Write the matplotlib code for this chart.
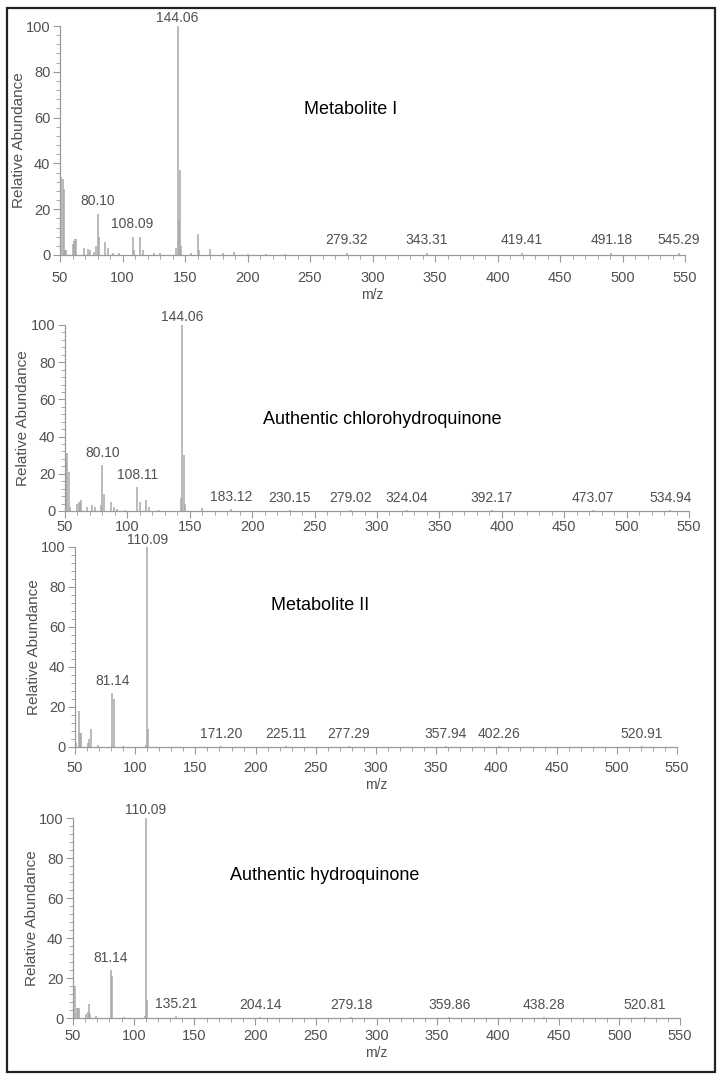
import matplotlib
matplotlib.use("Agg")
import matplotlib.pyplot as plt
from matplotlib.ticker import MultipleLocator
from matplotlib.patches import Rectangle

plt.rcParams['font.family'] = ['Liberation Sans', 'DejaVu Sans']

# ---- data (m/z, relative abundance) ----
# Metabolite I
mz1 = [50, 51, 52, 53, 54, 55, 60, 61, 62, 63, 69, 72, 74, 77, 79, 80, 81, 86, 88, 92, 97,
       108, 109, 114, 116, 125, 130, 143, 144, 145, 146, 147, 155, 160, 161, 170, 180, 189,
       200, 215, 230, 279.32, 343.31, 419.41, 491.18, 545.29]
ab1 = [3, 34, 33, 29, 2, 2, 5, 6, 7, 7, 3, 2.5, 2, 1.5, 4, 18, 8, 5.5, 3, 1, 1,
       8, 2, 8, 2, 0.8, 1, 3, 100, 15, 37, 4, 1, 9, 2, 2.5, 1, 1.5,
       0.5, 0.5, 0.5, 1, 1, 1, 1, 1]
lab1 = [144.06, 80.10, 108.09, 279.32, 343.31, 419.41, 491.18, 545.29]
laby1 = [100, 18, 8, 1, 1, 1, 1, 1]

# Authentic chlorohydroquinone
mz2 = [50, 51, 52, 53, 54, 60, 61, 62, 63, 68, 72, 74, 79, 80, 81, 87, 89, 92, 98,
       108, 110, 115, 117, 125, 143, 144, 145, 146, 160, 183.12, 230.15, 279.02, 324.04,
       392.17, 473.07, 534.94]
ab2 = [2, 27, 31, 21, 2, 4, 5, 5, 6, 2, 3, 2, 3, 25, 9, 5, 2, 1, 0.8,
       13, 5, 6, 2, 0.5, 7, 100, 30, 4, 1.5, 1, 0.5, 0.5, 0.5,
       0.5, 0.5, 0.5]
lab2 = [144.06, 80.10, 108.11, 183.12, 230.15, 279.02, 324.04, 392.17, 473.07, 534.94]
laby2 = [100, 25, 13, 1, 0.5, 0.5, 0.5, 0.5, 0.5, 0.5]

# Metabolite II
mz3 = [50, 51, 53, 54, 55, 61, 62, 63, 69, 81, 82, 90, 109, 110, 111, 171.20, 225.11,
       277.29, 357.94, 402.26, 520.91]
ab3 = [6, 2, 18, 7, 7, 2, 4, 9, 1, 27, 24, 0.5, 1, 100, 9, 0.5, 0.5,
       0.5, 0.5, 0.5, 0.5]
lab3 = [110.09, 81.14, 171.20, 225.11, 277.29, 357.94, 402.26, 520.91]
laby3 = [100, 27, 0.5, 0.5, 0.5, 0.5, 0.5, 0.5]

# Authentic hydroquinone
mz4 = [50, 51, 52, 53, 54, 55, 61, 62, 63, 64, 69, 81, 82, 92, 109, 110, 111, 135.21,
       204.14, 279.18, 359.86, 438.28, 520.81]
ab4 = [6, 2, 16, 5, 5, 5, 2, 3, 7, 2, 1, 24, 21, 0.5, 1, 100, 9, 1,
       0.5, 0.5, 0.5, 0.5, 0.5]
lab4 = [110.09, 81.14, 135.21, 204.14, 279.18, 359.86, 438.28, 520.81]
laby4 = [100, 24, 1, 0.5, 0.5, 0.5, 0.5, 0.5]

titles = ["Metabolite I", "Authentic chlorohydroquinone", "Metabolite II", "Authentic hydroquinone"]

W, H = 722, 1080
fig = plt.figure(figsize=(W / 100, H / 100), dpi=100)

# axes boxes in pixels: left, right, top, bottom
boxes = [(60, 685, 26, 255), (65, 689, 325, 511), (75, 677, 547, 747), (73, 680, 818, 1018)]
title_pos = [(351, 110), (382, 420), (320, 605), (325, 876)]
show_mz = [True, False, True, True]
xpad = [6.5, 1.5, 5, 3]      # tick-label padding (pt) per panel
ylab_x = [20, 24, 35, 33]    # y-label centre, pixels from left edge
top_off = [0.3, 0.3, 0.0, 0.3]

spectra = [(mz1, ab1, lab1, laby1), (mz2, ab2, lab2, laby2),
           (mz3, ab3, lab3, laby3), (mz4, ab4, lab4, laby4)]

grey = "#9a9a9a"
txt = "#505050"

for i in range(4):
    l, r, t, b = boxes[i]
    ax = fig.add_axes([l / W, 1 - b / H, (r - l) / W, (b - t) / H])
    mz, ab, lab, laby = spectra[i]
    ax.vlines(mz, 0, ab, color="#a8a8a8", lw=1.1)
    for x, y in zip(lab, laby):
        off = top_off[i] if y >= 99 else 2.5
        ax.text(x, y + off, "%.2f" % x, ha="center", va="bottom", fontsize=10, color=txt)

    ax.set_xlim(50, 550)
    ax.set_ylim(0, 100)
    ax.xaxis.set_major_locator(MultipleLocator(50))
    ax.xaxis.set_minor_locator(MultipleLocator(10))
    ax.yaxis.set_major_locator(MultipleLocator(20))
    ax.yaxis.set_minor_locator(MultipleLocator(4))
    for s in ["top", "right"]:
        ax.spines[s].set_visible(False)
    for s in ["left", "bottom"]:
        ax.spines[s].set_color(grey)
        ax.spines[s].set_linewidth(0.9)
    ax.tick_params(which="major", length=5, width=0.8, color=grey, labelsize=10.5,
                   labelcolor=txt, pad=2)
    ax.tick_params(axis="x", which="major", pad=xpad[i])
    ax.tick_params(which="minor", length=3, width=0.6, color=grey)
    ax.set_ylabel("Relative Abundance", fontsize=11, color=txt)
    # rotated label is anchored at its right side, so shift by half its height
    ax.yaxis.set_label_coords((ylab_x[i] + 6 - l) / (r - l), 0.5)
    if show_mz[i]:
        ax.set_xlabel("m/z", fontsize=10, color=txt, labelpad=2)
    ax.patch.set_alpha(0)

    tx, ty = title_pos[i]
    fig.text(tx / W, 1 - ty / H, titles[i], ha="center", va="center", fontsize=13, color="black")

# outer frame
fig.patches.append(Rectangle((7 / W, 8 / H), 708 / W, 1064 / H, transform=fig.transFigure,
                             fill=False, edgecolor="#222222", lw=1.6))

fig.savefig("out.png", dpi=100)
